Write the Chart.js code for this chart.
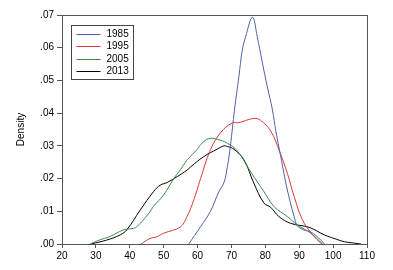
<!DOCTYPE html>
<html>
<head>
<meta charset="utf-8">
<script src="https://cdn.jsdelivr.net/npm/chart.js@4/dist/chart.umd.min.js"></script>
<style>
html,body{margin:0;padding:0;background:#fff;}
#wrap{width:393px;height:270px;position:relative;}
</style>
</head>
<body>
<div id="wrap"><canvas id="c" width="393" height="270"></canvas></div>
<script>
const seriesLabels = ["1985", "1995", "2005", "2013"];
const xTickValues = [20, 30, 40, 50, 60, 70, 80, 90, 100, 110];
const yTickValues = [0, 0.01, 0.02, 0.03, 0.04, 0.05, 0.06, 0.07];

const x1985 = [57.4, 60.9, 63.8, 66.3, 67.8, 68.8, 69.7, 70.9, 72.2, 73.2, 74.2, 76.2, 77.6, 79.1, 80.6, 82.1, 83.1, 84.5, 86.5, 88.5, 89.5, 91.4, 93.4, 96.4, 97.4];
const y1985 = [0, 0.0053, 0.0100, 0.0160, 0.0188, 0.0236, 0.0300, 0.0410, 0.0512, 0.0593, 0.0634, 0.0693, 0.0634, 0.0555, 0.0480, 0.0410, 0.0345, 0.0270, 0.0165, 0.0084, 0.0055, 0.0043, 0.0037, 0.0012, 0];

const x1995 = [43.3, 46, 48, 50, 54.9, 56.9, 58.9, 60.9, 63.8, 66.8, 70.2, 72.2, 76.6, 78.6, 81.6, 84.3, 86.5, 88.5, 90.9, 93.4, 95.9, 96.8];
const y1995 = [0, 0.0017, 0.0022, 0.0033, 0.0052, 0.0084, 0.0135, 0.0200, 0.0288, 0.0340, 0.0370, 0.0371, 0.0384, 0.0378, 0.0345, 0.0280, 0.0216, 0.0145, 0.0075, 0.0035, 0.0007, 0];

const x2005 = [28.3, 31, 34.2, 38.1, 41.1, 42.1, 45.5, 47, 50, 53, 55, 57, 60, 61, 63.3, 65.8, 68.8, 71.7, 75.7, 79.6, 82.6, 86.5, 89.5, 93.4, 96.9];
const y2005 = [0, 0.0012, 0.0023, 0.0043, 0.0048, 0.0053, 0.0092, 0.0115, 0.0150, 0.0200, 0.0228, 0.0258, 0.0290, 0.0305, 0.0322, 0.0320, 0.0308, 0.0285, 0.0220, 0.0160, 0.0114, 0.0084, 0.0058, 0.0033, 0];

const x2013 = [28.5, 33.2, 37.2, 39.1, 43.1, 47, 49, 51, 54, 56.9, 58, 61.8, 65.8, 67.8, 68.8, 70.7, 73.7, 76.6, 79.6, 81.6, 84, 87.5, 92.9, 97.4, 100.3, 103.3, 105.3, 108.2];
const y2013 = [0, 0.0012, 0.0028, 0.0043, 0.0104, 0.0160, 0.0180, 0.0188, 0.0206, 0.0226, 0.0236, 0.0267, 0.0290, 0.0300, 0.0298, 0.0290, 0.0257, 0.0186, 0.0125, 0.0112, 0.0084, 0.0063, 0.0051, 0.0028, 0.0017, 0.0007, 0.0004, 0];

const colors = ["#4f60aa", "#d93a3a", "#3a8a4e", "#000000"];
const xsList = [x1985, x1995, x2005, x2013];
const ysList = [y1985, y1995, y2005, y2013];

const FONT = "'Liberation Sans', Arial, sans-serif";

const datasets = seriesLabels.map((lab, i) => ({
  label: lab,
  data: xsList[i].map((x, j) => ({x: x, y: ysList[i][j]})),
  borderColor: colors[i],
  borderWidth: 1,
  pointRadius: 0,
  fill: false,
  tension: 0.4
}));

const framePlugin = {
  id: 'frame',
  afterDatasetsDraw(chart) {
    const {ctx, chartArea: a} = chart;
    ctx.save();
    ctx.strokeStyle = '#555';
    ctx.lineWidth = 1;
    ctx.strokeRect(Math.round(a.left) + 0.5, Math.round(a.top) + 0.5, Math.round(a.right - a.left), Math.round(a.bottom - a.top));
    const bx = Math.round(a.left + 9) + 0.5, by = Math.round(a.top + 10) + 0.5;
    const bw = 62, bh = 54;
    ctx.fillStyle = '#fff';
    ctx.fillRect(bx, by, bw, bh);
    ctx.strokeStyle = '#444';
    ctx.strokeRect(bx, by, bw, bh);
    ctx.font = '10px ' + FONT;
    ctx.textBaseline = 'middle';
    chart.data.datasets.forEach((ds, i) => {
      const yy = Math.round(by + 8.5 + i * 12.4) + 0.5;
      ctx.strokeStyle = ds.borderColor;
      ctx.beginPath();
      ctx.moveTo(bx + 5, yy);
      ctx.lineTo(bx + 29, yy);
      ctx.stroke();
      ctx.fillStyle = '#000';
      ctx.fillText(ds.label, bx + 35, yy);
    });
    ctx.restore();
  }
};

new Chart(document.getElementById('c'), {
  type: 'line',
  data: {datasets: datasets},
  plugins: [framePlugin],
  options: {
    responsive: false,
    animation: false,
    layout: {padding: {left: 15, top: 15, right: 26, bottom: 0}},
    plugins: {legend: {display: false}, tooltip: {enabled: false}},
    scales: {
      x: {
        type: 'linear',
        min: 20, max: 110,
        afterBuildTicks: s => { s.ticks = xTickValues.map(v => ({value: v})); },
        afterFit: s => { s.height = 26; },
        grid: {drawOnChartArea: false, drawTicks: true, tickLength: 4, color: '#555'},
        border: {display: true, color: '#555'},
        ticks: {color: '#000', font: {family: FONT, size: 10}, padding: 2, maxRotation: 0}
      },
      y: {
        min: 0, max: 0.07,
        afterBuildTicks: s => { s.ticks = yTickValues.map(v => ({value: v})); },
        afterFit: s => { s.width = 47; },
        grid: {drawOnChartArea: false, drawTicks: true, tickLength: 5, color: '#555'},
        border: {display: true, color: '#555'},
        title: {display: true, text: 'Density', color: '#000', font: {family: FONT, size: 10}, padding: {top: 0, bottom: 0}},
        ticks: {color: '#000', font: {family: FONT, size: 10}, padding: 3,
          callback: v => v.toFixed(2).replace(/^0\./, '.')}
      }
    }
  }
});
</script>
</body>
</html>
